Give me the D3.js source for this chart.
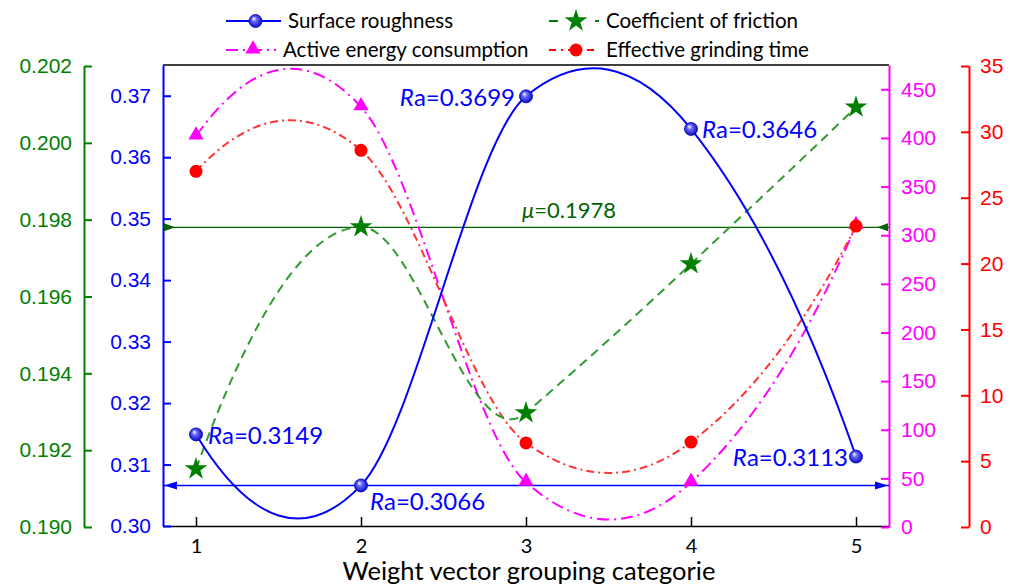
<!DOCTYPE html>
<html>
<head>
<meta charset="utf-8">
<title>Weight vector grouping</title>
<script src="https://cdn.jsdelivr.net/npm/d3@7"></script>
<style>
  body { margin: 0; background: #fff; }
  svg text { font-family: "Liberation Sans", Arial, sans-serif; }
  svg text.cal { font-family: Lato, "Open Sans", sans-serif; }
</style>
</head>
<body>
<script>
// data
var groups = [1, 2, 3, 4, 5];
var roughness = [0.3149, 0.3066, 0.3699, 0.3646, 0.3113];
var friction = [0.19151, 0.19781, 0.19297, 0.19685, 0.20093];
var energy = [402, 432, 46, 46, 310];
var grindTime = [27.0, 28.6, 6.38, 6.45, 22.85];
var raLabels = ["0.3149", "0.3066", "0.3699", "0.3646", "0.3113"];
var muValue = 0.1978;
var raMin = 0.3066;

var greenTicks = [0.190, 0.192, 0.194, 0.196, 0.198, 0.200, 0.202];
var blueTicks = [0.30, 0.31, 0.32, 0.33, 0.34, 0.35, 0.36, 0.37];
var pinkTicks = [0, 50, 100, 150, 200, 250, 300, 350, 400, 450];
var redTicks = [0, 5, 10, 15, 20, 25, 30, 35];

var width = 1013, height = 588;
var plotL = 163, plotR = 889, plotT = 65, plotB = 526;

// Akima spline, the kind of smooth line the original plot uses
function Akima(context) { this._context = context; }
Akima.prototype = {
  areaStart: function () { this._line = 0; },
  areaEnd: function () { this._line = NaN; },
  lineStart: function () { this._x = []; this._y = []; },
  point: function (x, y) { this._x.push(+x); this._y.push(+y); },
  lineEnd: function () {
    var x = this._x, y = this._y, n = x.length, c = this._context;
    if (n) {
      c.moveTo(x[0], y[0]);
      if (n === 2) c.lineTo(x[1], y[1]);
      else if (n > 2) {
        var m = [];
        for (var i = 0; i < n - 1; i++) m.push((y[i + 1] - y[i]) / (x[i + 1] - x[i]));
        var a = 2 * m[0] - m[1], b = 2 * a - m[0];
        var p = 2 * m[n - 2] - m[n - 3], q = 2 * p - m[n - 2];
        var e = [b, a].concat(m, [p, q]);
        var t = [];
        for (var j = 0; j < n; j++) {
          var w1 = Math.abs(e[j + 3] - e[j + 2]), w2 = Math.abs(e[j + 1] - e[j]);
          t.push(w1 + w2 === 0 ? (e[j + 1] + e[j + 2]) / 2 : (w1 * e[j + 1] + w2 * e[j + 2]) / (w1 + w2));
        }
        for (var k = 0; k < n - 1; k++) {
          var h = (x[k + 1] - x[k]) / 3;
          c.bezierCurveTo(x[k] + h, y[k] + t[k] * h, x[k + 1] - h, y[k + 1] - t[k + 1] * h, x[k + 1], y[k + 1]);
        }
      }
    }
    this._x = this._y = null;
  }
};
function curveAkima(context) { return new Akima(context); }

var svg = d3.select("body").append("svg")
    .attr("width", width)
    .attr("height", height);

var x = d3.scaleLinear().domain([0.8, 5.2]).range([plotL, plotR]);
var yBlue = d3.scaleLinear().domain([0.30, 0.375]).range([plotB, plotT]);
var yGreen = d3.scaleLinear().domain([0.190, 0.202]).range([527, 66]);
var yPink = d3.scaleLinear().domain([0, 475]).range([527, plotT]);
var yRed = d3.scaleLinear().domain([0, 35]).range([527, 66]);

var BLUE = "#0000ff", GREEN = "#008000", PINK = "#ff00ff", RED = "#ff0000";

var defs = svg.append("defs");
var grad = defs.append("radialGradient").attr("id", "ball")
    .attr("cx", "50%").attr("cy", "50%").attr("r", "55%")
    .attr("fx", "35%").attr("fy", "30%");
grad.append("stop").attr("offset", "0%").attr("stop-color", "#ffffff");
grad.append("stop").attr("offset", "35%").attr("stop-color", "#6a6aff");
grad.append("stop").attr("offset", "100%").attr("stop-color", "#0000b0");

// frame: top black line
svg.append("line").attr("x1", plotL).attr("x2", plotR).attr("y1", plotT).attr("y2", plotT)
    .attr("stroke", "#000").attr("stroke-width", 1.5);

// axes
function styleAxis(g, color, size) {
  g.selectAll("path, line").attr("stroke", color).attr("stroke-width", 2);
  g.selectAll("text").attr("fill", color).attr("font-size", size);
}

var gx = svg.append("g").attr("transform", "translate(0," + plotB + ")")
  .call(d3.axisBottom(x).tickValues(groups).tickSizeInner(-9).tickSizeOuter(0).tickPadding(13).tickFormat(d3.format("d")));
gx.select(".domain").attr("stroke", "#000").attr("stroke-width", 1.5);
gx.selectAll("line").attr("stroke", "#000").attr("stroke-width", 1.5);
gx.selectAll("text").attr("fill", "#000").attr("font-size", 20).attr("class", "cal");

var gGreen = svg.append("g").attr("transform", "translate(84,0)")
  .call(d3.axisLeft(yGreen).tickValues(greenTicks).tickSizeInner(-8).tickSizeOuter(0).tickPadding(12).tickFormat(d3.format(".3f")));
styleAxis(gGreen, GREEN, 21);

var gBlue = svg.append("g").attr("transform", "translate(" + plotL + ",0)")
  .call(d3.axisLeft(yBlue).tickValues(blueTicks).tickSizeInner(-8).tickSizeOuter(0).tickPadding(12).tickFormat(d3.format(".2f")));
styleAxis(gBlue, BLUE, 21);

var gPink = svg.append("g").attr("transform", "translate(" + plotR + ",0)")
  .call(d3.axisRight(yPink).tickValues(pinkTicks).tickSizeInner(-8).tickSizeOuter(0).tickPadding(12));
styleAxis(gPink, PINK, 21);

var gRed = svg.append("g").attr("transform", "translate(969,0)")
  .call(d3.axisRight(yRed).tickValues(redTicks).tickSizeInner(-8).tickSizeOuter(0).tickPadding(11));
styleAxis(gRed, RED, 21);

svg.append("text").attr("class", "cal")
    .attr("x", 529).attr("y", 580)
    .attr("text-anchor", "middle")
    .attr("font-size", 25.5)
    .text("Weight vector grouping categorie");

// reference lines
var yMu = yGreen(muValue), yRa = yBlue(raMin);
svg.append("line").attr("x1", plotL).attr("x2", plotR).attr("y1", yMu).attr("y2", yMu)
    .attr("stroke", "#006400").attr("stroke-width", 1.3);
svg.append("path").attr("fill", "#006400")
    .attr("d", "M" + (plotL + 1) + "," + (yMu - 4) + "L" + (plotL + 12) + "," + yMu + "L" + (plotL + 1) + "," + (yMu + 4) + "Z");
svg.append("path").attr("fill", "#006400")
    .attr("d", "M" + (plotR - 1) + "," + (yMu - 4) + "L" + (plotR - 12) + "," + yMu + "L" + (plotR - 1) + "," + (yMu + 4) + "Z");

svg.append("line").attr("x1", plotL).attr("x2", plotR).attr("y1", yRa).attr("y2", yRa)
    .attr("stroke", BLUE).attr("stroke-width", 1.6);
svg.append("path").attr("fill", BLUE)
    .attr("d", "M" + (plotL + 1) + "," + yRa + "L" + (plotL + 14) + "," + (yRa - 4) + "L" + (plotL + 14) + "," + (yRa + 4) + "Z");
svg.append("path").attr("fill", BLUE)
    .attr("d", "M" + (plotR - 1) + "," + yRa + "L" + (plotR - 14) + "," + (yRa - 4) + "L" + (plotR - 14) + "," + (yRa + 4) + "Z");

// curves
function curveLine(yScale) {
  return d3.line().x(function (d, i) { return x(groups[i]); })
    .y(function (d) { return yScale(d); })
    .curve(curveAkima);
}

svg.append("path").datum(energy).attr("d", curveLine(yPink))
    .attr("fill", "none").attr("stroke", PINK).attr("stroke-width", 2)
    .attr("stroke-dasharray", "12,5,2,5");
svg.append("path").datum(grindTime).attr("d", curveLine(yRed))
    .attr("fill", "none").attr("stroke", "#ff3333").attr("stroke-width", 2)
    .attr("stroke-dasharray", "8,4,2,4");
svg.append("path").datum(friction).attr("d", curveLine(yGreen))
    .attr("fill", "none").attr("stroke", "#339933").attr("stroke-width", 2)
    .attr("stroke-dasharray", "9,6");
svg.append("path").datum(roughness).attr("d", curveLine(yBlue))
    .attr("fill", "none").attr("stroke", BLUE).attr("stroke-width", 2);

// markers
var tri = d3.symbol().type(d3.symbolTriangle).size(100);
var star = d3.symbol().type(d3.symbolStar).size(160);

svg.selectAll(".tri").data(energy).enter().append("path")
    .attr("d", tri)
    .attr("transform", function (d, i) { return "translate(" + x(groups[i]) + "," + (yPink(d) - 1) + ")"; })
    .attr("fill", PINK);
svg.selectAll(".dot").data(grindTime).enter().append("circle")
    .attr("cx", function (d, i) { return x(groups[i]); })
    .attr("cy", function (d) { return yRed(d); })
    .attr("r", 6.5).attr("fill", RED);
svg.selectAll(".star").data(friction).enter().append("path")
    .attr("d", star)
    .attr("transform", function (d, i) { return "translate(" + x(groups[i]) + "," + yGreen(d) + ")"; })
    .attr("fill", GREEN);
svg.selectAll(".ball").data(roughness).enter().append("circle")
    .attr("cx", function (d, i) { return x(groups[i]); })
    .attr("cy", function (d) { return yBlue(d); })
    .attr("r", 6.5).attr("fill", "url(#ball)").attr("stroke", "#0000c0").attr("stroke-width", 0.8);

// annotations
var raPos = [
  { dx: 12, dy: 10, anchor: "start" },
  { dx: 9, dy: 25, anchor: "start" },
  { dx: -11, dy: 10, anchor: "end" },
  { dx: 11, dy: 9, anchor: "start" },
  { dx: -8, dy: 9, anchor: "end" }
];
raLabels.forEach(function (lab, i) {
  var t = svg.append("text").attr("class", "cal")
      .attr("x", x(groups[i]) + raPos[i].dx)
      .attr("y", yBlue(roughness[i]) + raPos[i].dy)
      .attr("text-anchor", raPos[i].anchor)
      .attr("font-size", 24).attr("fill", BLUE);
  t.append("tspan").attr("font-style", "italic").text("R");
  t.append("tspan").text("a=" + lab);
});
var mu = svg.append("text").attr("class", "cal")
    .attr("x", 522).attr("y", 218)
    .attr("font-size", 22).attr("fill", "#006400");
mu.append("tspan").attr("font-style", "italic").text("\u03bc");
mu.append("tspan").text("=" + muValue);

// legend
var legend = [
  { name: "Surface roughness", x: 226, y: 21, len: 55, color: BLUE, dash: null, mark: "ball" },
  { name: "Coefficient of friction", x: 549, y: 21, len: 50, color: GREEN, dash: "9,14", mark: "star" },
  { name: "Active energy consumption", x: 226, y: 50, len: 50, color: PINK, dash: "12,5,2,5", mark: "tri" },
  { name: "Effective grinding time", x: 549, y: 50, len: 50, color: RED, dash: "7,5,2,5", mark: "dot" }
];
legend.forEach(function (d) {
  svg.append("line").attr("x1", d.x).attr("x2", d.x + d.len).attr("y1", d.y).attr("y2", d.y)
      .attr("stroke", d.color).attr("stroke-width", 2)
      .attr("stroke-dasharray", d.dash);
  var cx = d.x + d.len / 2 + 2;
  if (d.mark === "ball") {
    svg.append("circle").attr("cx", cx).attr("cy", d.y).attr("r", 6.5)
        .attr("fill", "url(#ball)").attr("stroke", "#0000c0").attr("stroke-width", 0.8);
  } else if (d.mark === "star") {
    svg.append("path").attr("d", star).attr("transform", "translate(" + cx + "," + d.y + ")").attr("fill", GREEN);
  } else if (d.mark === "tri") {
    svg.append("path").attr("d", tri).attr("transform", "translate(" + cx + "," + (d.y - 1) + ")").attr("fill", PINK);
  } else {
    svg.append("circle").attr("cx", cx).attr("cy", d.y).attr("r", 6.5).attr("fill", RED);
  }
  svg.append("text").attr("class", "cal")
      .attr("x", d.x + d.len + (d.mark === "tri" ? 7 : 7))
      .attr("y", d.y + 7)
      .attr("font-size", 20.5).attr("fill", "#000")
      .text(d.name);
});
</script>
</body>
</html>
